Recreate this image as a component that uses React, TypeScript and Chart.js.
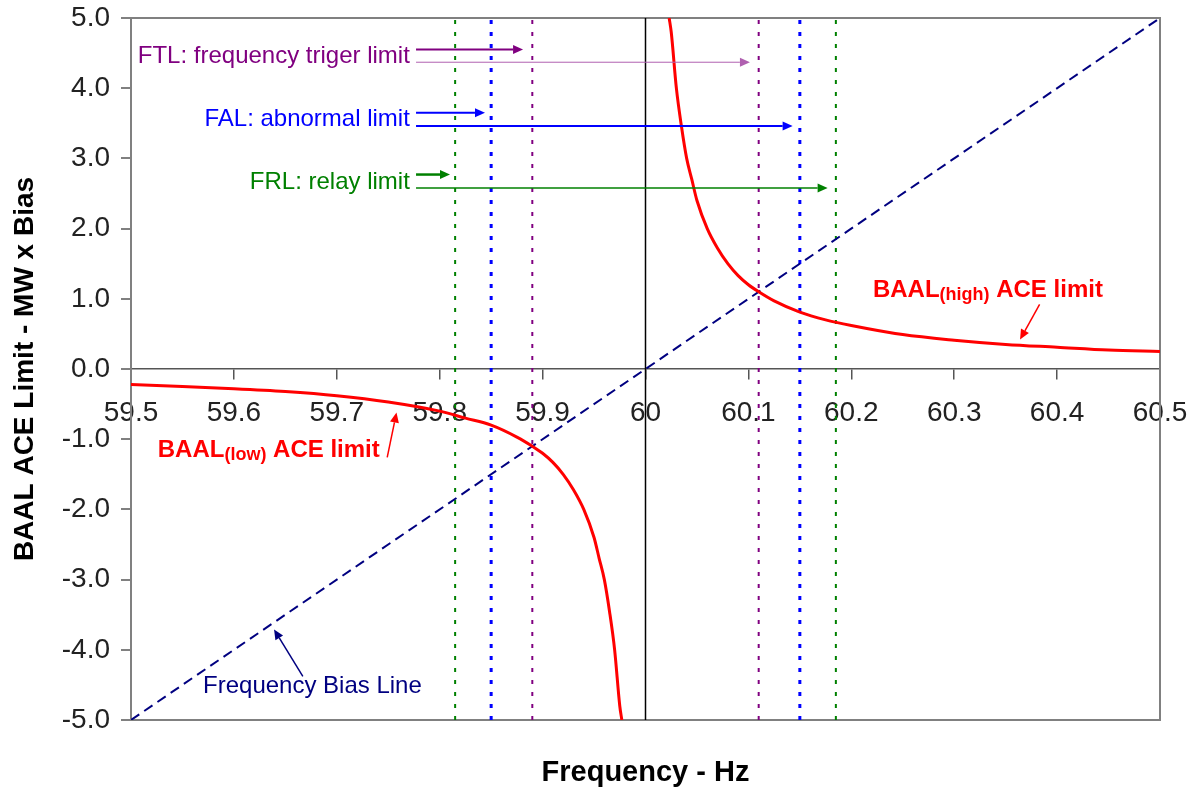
import React, { useEffect, useRef } from "react";
import { Chart, registerables } from "chart.js";

Chart.register(...registerables);

// ---- data ----
const X_TICKS = [59.5, 59.6, 59.7, 59.8, 59.9, 60, 60.1, 60.2, 60.3, 60.4, 60.5];
const X_TICK_LABELS = ["59.5", "59.6", "59.7", "59.8", "59.9", "60", "60.1", "60.2", "60.3", "60.4", "60.5"];
const Y_TICKS = [-5, -4, -3, -2, -1, 0, 1, 2, 3, 4, 5];
const Y_TICK_LABELS = ["-5.0", "-4.0", "-3.0", "-2.0", "-1.0", "0.0", "1.0", "2.0", "3.0", "4.0", "5.0"];

const HIGH_FREQ = [60.023, 60.025, 60.03, 60.035, 60.04, 60.045, 60.05, 60.06, 60.07, 60.08, 60.09, 60.1, 60.11, 60.125, 60.15, 60.175, 60.2, 60.25, 60.3, 60.35, 60.4, 60.45, 60.5];
const HIGH_ACE = [5.0, 4.8, 4.0, 3.45, 3.0, 2.7, 2.4, 2.0, 1.72, 1.5, 1.33, 1.2, 1.1, 0.97, 0.81, 0.7, 0.62, 0.49, 0.41, 0.35, 0.31, 0.27, 0.25];

const LOW_FREQ = [59.5, 59.55, 59.6, 59.65, 59.7, 59.75, 59.8, 59.825, 59.85, 59.875, 59.89, 59.9, 59.91, 59.92, 59.93, 59.94, 59.95, 59.955, 59.96, 59.965, 59.97, 59.975, 59.977];
const LOW_ACE = [-0.22, -0.25, -0.28, -0.32, -0.38, -0.47, -0.6, -0.7, -0.8, -0.97, -1.1, -1.2, -1.33, -1.5, -1.72, -2.0, -2.4, -2.7, -3.0, -3.45, -4.0, -4.8, -5.0];

const BIAS_FREQ = [59.5, 60.5];
const BIAS_VAL = [-5, 5];

const NOMINAL = 60;
const FRL_LIMITS = [59.815, 60.185];
const FAL_LIMITS = [59.85, 60.15];
const FTL_LIMITS = [59.89, 60.11];

// annotation texts (data coordinates)
const NOTES = [
  { text: "FTL: frequency triger limit", x: 59.771, y: 4.45, color: "#800080" },
  { text: "FAL: abnormal limit", x: 59.771, y: 3.55, color: "#0000ff" },
  { text: "FRL: relay limit", x: 59.771, y: 2.66, color: "#008000" },
];
const ARROWS = [
  { x1: 59.777, y1: 4.55, x2: 59.881, y2: 4.55, color: "#800080", w: 2 },
  { x1: 59.777, y1: 4.37, x2: 60.1015, y2: 4.37, color: "#b060b0", w: 1 },
  { x1: 59.777, y1: 3.65, x2: 59.844, y2: 3.65, color: "#0000ff", w: 2 },
  { x1: 59.777, y1: 3.46, x2: 60.143, y2: 3.46, color: "#0000ff", w: 2 },
  { x1: 59.777, y1: 2.77, x2: 59.81, y2: 2.77, color: "#008000", w: 2.5 },
  { x1: 59.777, y1: 2.58, x2: 60.177, y2: 2.58, color: "#008000", w: 1.5 },
  { x1: 60.383, y1: 0.92, x2: 60.364, y2: 0.42, color: "#ff0000", w: 1.5 },
  { x1: 59.749, y1: -1.26, x2: 59.758, y2: -0.62, color: "#ff0000", w: 1.5 },
  { x1: 59.667, y1: -4.38, x2: 59.639, y2: -3.71, color: "#000080", w: 1.5 },
];
const BAAL_LABELS = [
  { main: "BAAL", sub: "(high)", rest: " ACE limit", x: 60.221, y: 1.03 },
  { main: "BAAL", sub: "(low)", rest: " ACE limit", x: 59.526, y: -1.26 },
];
const BIAS_NOTE = { text: "Frequency Bias Line", x: 59.57, y: -4.52 };

const FONT = "'Liberation Sans', Arial, sans-serif";

function drawArrow(ctx: CanvasRenderingContext2D, x1: number, y1: number, x2: number, y2: number, color: string, w: number) {
  const ang = Math.atan2(y2 - y1, x2 - x1);
  const hl = 10;
  const hw = 4.5;
  const bx = x2 - hl * Math.cos(ang);
  const by = y2 - hl * Math.sin(ang);
  ctx.strokeStyle = color;
  ctx.lineWidth = w;
  ctx.setLineDash([]);
  ctx.beginPath();
  ctx.moveTo(x1, y1);
  ctx.lineTo(bx, by);
  ctx.stroke();
  ctx.fillStyle = color;
  ctx.beginPath();
  ctx.moveTo(x2, y2);
  ctx.lineTo(bx + hw * Math.sin(ang), by - hw * Math.cos(ang));
  ctx.lineTo(bx - hw * Math.sin(ang), by + hw * Math.cos(ang));
  ctx.closePath();
  ctx.fill();
}

const annotPlugin = {
  id: "annot",
  afterDatasetsDraw(chart: any) {
    const ctx: CanvasRenderingContext2D = chart.ctx;
    const sx = chart.scales.x;
    const sy = chart.scales.y;
    const X = (v: number) => sx.getPixelForValue(v);
    const Y = (v: number) => sy.getPixelForValue(v);
    ctx.save();
    for (const a of ARROWS) drawArrow(ctx, X(a.x1), Y(a.y1), X(a.x2), Y(a.y2), a.color, a.w);
    ctx.textBaseline = "middle";
    ctx.textAlign = "right";
    ctx.font = `24px ${FONT}`;
    for (const n of NOTES) {
      ctx.fillStyle = n.color;
      ctx.fillText(n.text, X(n.x), Y(n.y));
    }
    ctx.textAlign = "left";
    ctx.fillStyle = "#000080";
    ctx.fillText(BIAS_NOTE.text, X(BIAS_NOTE.x), Y(BIAS_NOTE.y));
    ctx.textBaseline = "alphabetic";
    ctx.fillStyle = "#ff0000";
    for (const b of BAAL_LABELS) {
      let x = X(b.x);
      const y = Y(b.y);
      ctx.font = `bold 24px ${FONT}`;
      ctx.fillText(b.main, x, y);
      x += ctx.measureText(b.main).width;
      ctx.font = `bold 18px ${FONT}`;
      ctx.fillText(b.sub, x, y + 3);
      x += ctx.measureText(b.sub).width;
      ctx.font = `bold 24px ${FONT}`;
      ctx.fillText(b.rest, x, y);
    }
    ctx.restore();
  },
};

function pts(xs: number[], ys: number[]) {
  return xs.map((x, i) => ({ x, y: ys[i] }));
}
function vline(x: number) {
  return [{ x, y: -5 }, { x, y: 5 }];
}
function noPad(s: any) {
  s.paddingTop = 0;
  s.paddingBottom = 0;
  s.paddingLeft = 0;
  s.paddingRight = 0;
}

export default function App() {
  const ref = useRef<HTMLCanvasElement>(null);
  useEffect(() => {
    const canvas = ref.current;
    if (!canvas) return;
    Chart.defaults.font.family = FONT;
    const common = { showLine: true, pointRadius: 0, pointHoverRadius: 0, fill: false };
    const dotted = (x: number, color: string, w: number) => ({
      ...common,
      data: vline(x),
      borderColor: color,
      borderWidth: w,
      borderDash: [4, 8],
      order: 3,
    });
    const chart = new Chart(canvas, {
      type: "scatter",
      data: {
        datasets: [
          { ...common, label: "BAAL high", data: pts(HIGH_FREQ, HIGH_ACE), borderColor: "#ff0000", borderWidth: 3, cubicInterpolationMode: "monotone", order: 0 },
          { ...common, label: "BAAL low", data: pts(LOW_FREQ, LOW_ACE), borderColor: "#ff0000", borderWidth: 3, cubicInterpolationMode: "monotone", order: 0 },
          { ...common, label: "Bias", data: pts(BIAS_FREQ, BIAS_VAL), borderColor: "#000080", borderWidth: 2, borderDash: [10, 6], order: 1 },
          { ...common, label: "60", data: vline(NOMINAL), borderColor: "#000000", borderWidth: 1.5, order: 2 },
          dotted(FRL_LIMITS[0], "#008000", 2),
          dotted(FRL_LIMITS[1], "#008000", 2),
          dotted(FAL_LIMITS[0], "#0000ff", 3),
          dotted(FAL_LIMITS[1], "#0000ff", 3),
          dotted(FTL_LIMITS[0], "#800080", 2),
          dotted(FTL_LIMITS[1], "#800080", 2),
        ] as any,
      },
      options: {
        animation: false,
        responsive: true,
        maintainAspectRatio: false,
        layout: { padding: 0 },
        plugins: { legend: { display: false }, tooltip: { enabled: false }, title: { display: false } },
        events: [],
        scales: {
          x: {
            type: "linear",
            position: { y: 0 } as any,
            min: 59.5,
            max: 60.5,
            afterBuildTicks: (s: any) => { s.ticks = X_TICKS.map((v) => ({ value: v })); },
            afterFit: (s: any) => { noPad(s); },
            ticks: {
              callback: (_v: any, i: number) => X_TICK_LABELS[i],
              font: { size: 28 },
              color: "#222",
              padding: 17,
              maxRotation: 0,
              autoSkip: false,
            },
            grid: { drawOnChartArea: false, drawTicks: true, tickLength: 10, color: "#555", lineWidth: 1.5 },
            border: { display: true, color: "#555", width: 1.5 },
          },
          y: {
            type: "linear",
            position: "left",
            min: -5,
            max: 5,
            afterBuildTicks: (s: any) => { s.ticks = Y_TICKS.map((v) => ({ value: v })); },
            afterFit: (s: any) => { s.width = 131; noPad(s); },
            ticks: {
              callback: (_v: any, i: number) => Y_TICK_LABELS[i],
              font: { size: 28 },
              color: "#222",
              padding: 11,
              autoSkip: false,
            },
            grid: { drawOnChartArea: false, drawTicks: true, tickLength: 10, color: "#808080", lineWidth: 2 },
            border: { display: true, color: "#808080", width: 2 },
            title: { display: true, text: "BAAL ACE Limit - MW x Bias", font: { size: 28, weight: "bold" }, color: "#000", padding: { top: 8, bottom: 0 } },
          },
          xTop: {
            type: "linear",
            position: "top",
            min: 59.5,
            max: 60.5,
            ticks: { display: false },
            grid: { display: false, drawTicks: false },
            border: { display: true, color: "#808080", width: 2 },
            afterFit: (s: any) => { s.height = 18; noPad(s); },
          },
          xBottom: {
            type: "linear",
            position: "bottom",
            min: 59.5,
            max: 60.5,
            ticks: { display: false },
            grid: { display: false, drawTicks: false },
            border: { display: true, color: "#808080", width: 2 },
            title: { display: true, text: "Frequency - Hz", font: { size: 29, weight: "bold" }, color: "#000", padding: { top: 0, bottom: -2 } },
            afterFit: (s: any) => { s.height = 68; noPad(s); },
          },
          yRight: {
            type: "linear",
            position: "right",
            min: -5,
            max: 5,
            ticks: { display: false },
            grid: { display: false, drawTicks: false },
            border: { display: true, color: "#808080", width: 2 },
            afterFit: (s: any) => { s.width = 34; noPad(s); },
          },
        } as any,
      },
      plugins: [annotPlugin],
    });
    return () => chart.destroy();
  }, []);
  return (
    <div style={{ position: "absolute", left: 0, top: 0, width: 1194, height: 788 }}>
      <canvas ref={ref} />
    </div>
  );
}
